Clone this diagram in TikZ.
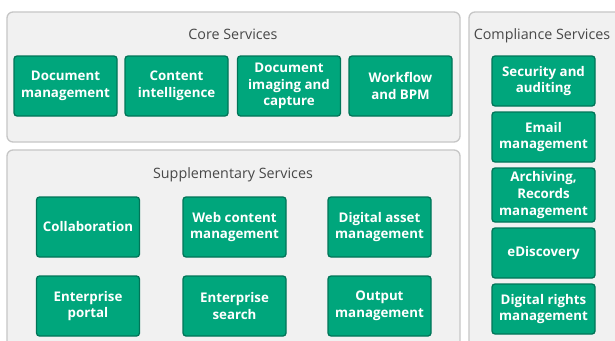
\documentclass[tikz,border=0pt]{standalone}
\usepackage{fontspec}
\setmainfont{Open Sans}
\definecolor{boxfill}{HTML}{00A67C}
\definecolor{boxline}{HTML}{007558}
\definecolor{panelfill}{HTML}{F1F1F1}
\definecolor{panelline}{HTML}{C6C6C6}
\definecolor{titlegray}{HTML}{484848}
\tikzset{
  panel/.style={draw=panelline, fill=panelfill, line width=1.3pt, rounded corners=6pt},
  ptitle/.style={text=titlegray, font=\fontsize{14.3}{16}\selectfont, inner sep=0pt, anchor=base},
  svc/.style={draw=boxline, fill=boxfill, line width=1.3pt, rounded corners=3pt,
    text=white, font=\fontsize{13.3}{16.8}\selectfont\bfseries, align=center,
    minimum width=103pt, minimum height=60pt, inner sep=0pt},
}
\begin{document}
\begin{tikzpicture}[x=1pt,y=-1pt]
\useasboundingbox (0,0) rectangle (615,340);
\clip (0,0) rectangle (615,340);
\fill[white] (0,0) rectangle (615,340);
% panels
\draw[panel] (7,12) rectangle (460,142);
\draw[panel] (7,150) rectangle (460,370);
\draw[panel] (469,12) rectangle (650,370);
% titles
\node[ptitle] (tcore) at (233,39) {Core Services};
\node[ptitle] (tsupp) at (233,178) {Supplementary Services};
\node[ptitle] (tcomp) at (542,39) {Compliance Services};
% core
\node[svc] (dm) at (65.5,86) {Document\\management};
\node[svc] (ci) at (176.5,86) {Content\\intelligence};
\node[svc] (dic) at (289,86) {Document\\imaging and\\capture};
\node[svc] (wf) at (400.5,86) {Workflow\\and BPM};
% supplementary
\node[svc] (col) at (88,227) {Collaboration};
\node[svc] (wcm) at (234.5,227) {Web content\\management};
\node[svc] (dam) at (379.5,227) {Digital asset\\management};
\node[svc] (ep) at (88,306) {Enterprise\\portal};
\node[svc] (es) at (234.5,306) {Enterprise\\search};
\node[svc] (om) at (379.5,306) {Output\\management};
% compliance
\node[svc, minimum height=50pt] (sa) at (543.5,81) {Security and\\auditing};
\node[svc, minimum height=50pt] (em) at (543.5,137) {Email\\management};
\node[svc, minimum height=54pt] (ar) at (543.5,195) {Archiving,\\Records\\management};
\node[svc, minimum height=50pt] (ed) at (543.5,253) {eDiscovery};
\node[svc, minimum height=50pt] (drm) at (543.5,309) {Digital rights\\management};
\end{tikzpicture}
\end{document}
